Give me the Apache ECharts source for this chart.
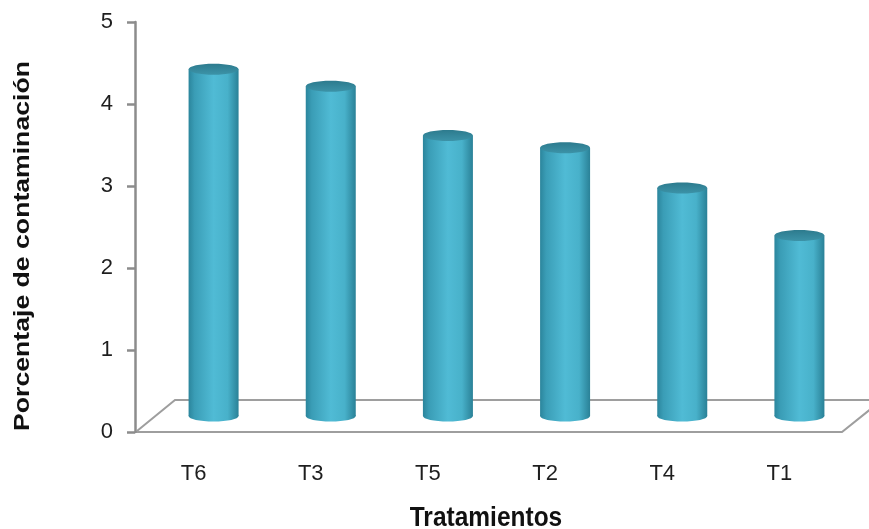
<!DOCTYPE html>
<html>
<head>
<meta charset="utf-8">
<script src="https://cdn.jsdelivr.net/npm/echarts@6/dist/echarts.min.js"></script>
<style>
  html, body { margin: 0; padding: 0; background: #ffffff; }
  #main { width: 869px; height: 529px; }
</style>
</head>
<body>
<div id="main"></div>
<script>
// Treatments along the x axis and their contamination percentage
const categories = ['T6', 'T3', 'T5', 'T2', 'T4', 'T1'];
const contamination = [4.23, 4.02, 3.42, 3.27, 2.78, 2.20];
const yMin = 0;
const yMax = 5;
const yStep = 1;
const yTitle = 'Porcentaje de contaminación';
const xTitle = 'Tratamientos';

// Plot frame and pseudo-3D floor depth (pixels)
const GRID = { left: 135, right: 31, top: 22, bottom: 97 };
const FLOOR_RIGHT = 842;
const DEPTH = { dx: 40, dy: 32 };
const W = 869, H = 529;
const FRONT_Y = H - GRID.bottom;

const LABEL_FONT = '"Liberation Sans", Arial, sans-serif';
const AXIS_GREY = '#8c8c8c';

const chart = echarts.init(document.getElementById('main'), null, { renderer: 'canvas' });

const bodyGradient = () => new echarts.graphic.LinearGradient(0, 0, 1, 0, [
  { offset: 0.00, color: '#2b859c' },
  { offset: 0.12, color: '#3a9db6' },
  { offset: 0.50, color: '#50bbd5' },
  { offset: 0.78, color: '#48b1ca' },
  { offset: 1.00, color: '#2a8197' }
]);
const topGradient = () => new echarts.graphic.LinearGradient(0, 0, 0, 1, [
  { offset: 0, color: '#2d7b8e' },
  { offset: 1, color: '#3c93a8' }
]);

// Cylinder: sits at mid depth of the floor, height taken from the value axis
function renderCylinder(params, api) {
  const idx = api.value(0);
  const val = api.value(1);
  const top = api.coord([idx, val]);
  const base = api.coord([idx, 0]);
  const cx = top[0] + DEPTH.dx / 2;
  const ty = top[1] - DEPTH.dy / 2;
  const by = base[1] - DEPTH.dy / 2;
  const rx = 25, ry = 5.5;
  return {
    type: 'group',
    children: [
      { type: 'ellipse', shape: { cx: cx, cy: by, rx: rx, ry: ry }, style: { fill: bodyGradient() } },
      { type: 'rect', shape: { x: cx - rx, y: ty, width: rx * 2, height: by - ty }, style: { fill: bodyGradient() } },
      { type: 'ellipse', shape: { cx: cx, cy: ty, rx: rx, ry: ry }, style: { fill: topGradient() } }
    ]
  };
}

const floorLine = { stroke: '#9e9e9e', lineWidth: 2 };

const option = {
  animation: false,
  backgroundColor: '#ffffff',
  grid: { left: GRID.left, right: GRID.right, top: GRID.top, bottom: GRID.bottom, containLabel: false },
  xAxis: {
    type: 'category',
    data: categories,
    boundaryGap: true,
    axisLine: { show: false },
    axisTick: { show: false },
    axisLabel: { margin: 31, fontSize: 22, fontFamily: LABEL_FONT, color: '#1e1e1e' }
  },
  yAxis: {
    type: 'value',
    min: yMin,
    max: yMax,
    interval: yStep,
    splitLine: { show: false },
    axisLine: { show: true, lineStyle: { color: AXIS_GREY, width: 2.5 } },
    axisTick: { show: true, length: 8, lineStyle: { color: AXIS_GREY, width: 2.5 } },
    axisLabel: { margin: 22, fontSize: 22, fontFamily: LABEL_FONT, color: '#1e1e1e' }
  },
  graphic: [
    // floor parallelogram
    { type: 'polyline', z: 0, silent: true, shape: { points: [[GRID.left, FRONT_Y], [FLOOR_RIGHT, FRONT_Y], [FLOOR_RIGHT + DEPTH.dx, FRONT_Y - DEPTH.dy]] }, style: floorLine },
    { type: 'polyline', z: 0, silent: true, shape: { points: [[GRID.left + 2, FRONT_Y - 1], [GRID.left + DEPTH.dx, FRONT_Y - DEPTH.dy], [FLOOR_RIGHT + DEPTH.dx, FRONT_Y - DEPTH.dy]] }, style: floorLine },
    // axis titles
    {
      type: 'text', x: 23, y: 246, rotation: Math.PI / 2, scaleX: 1.21,
      style: { text: yTitle, font: 'bold 22px "Liberation Sans", Arial, sans-serif', fill: '#111', align: 'center', verticalAlign: 'middle' }
    },
    {
      type: 'text', x: 486, y: 518, scaleY: 1.15,
      style: { text: xTitle, font: 'bold 24.5px "Liberation Sans", Arial, sans-serif', fill: '#111', align: 'center', verticalAlign: 'middle' }
    }
  ],
  series: [{
    type: 'custom',
    renderItem: renderCylinder,
    encode: { x: 0, y: 1 },
    data: contamination.map((v, i) => [i, v]),
    z: 5,
    clip: false
  }]
};

chart.setOption(option);
</script>
</body>
</html>
